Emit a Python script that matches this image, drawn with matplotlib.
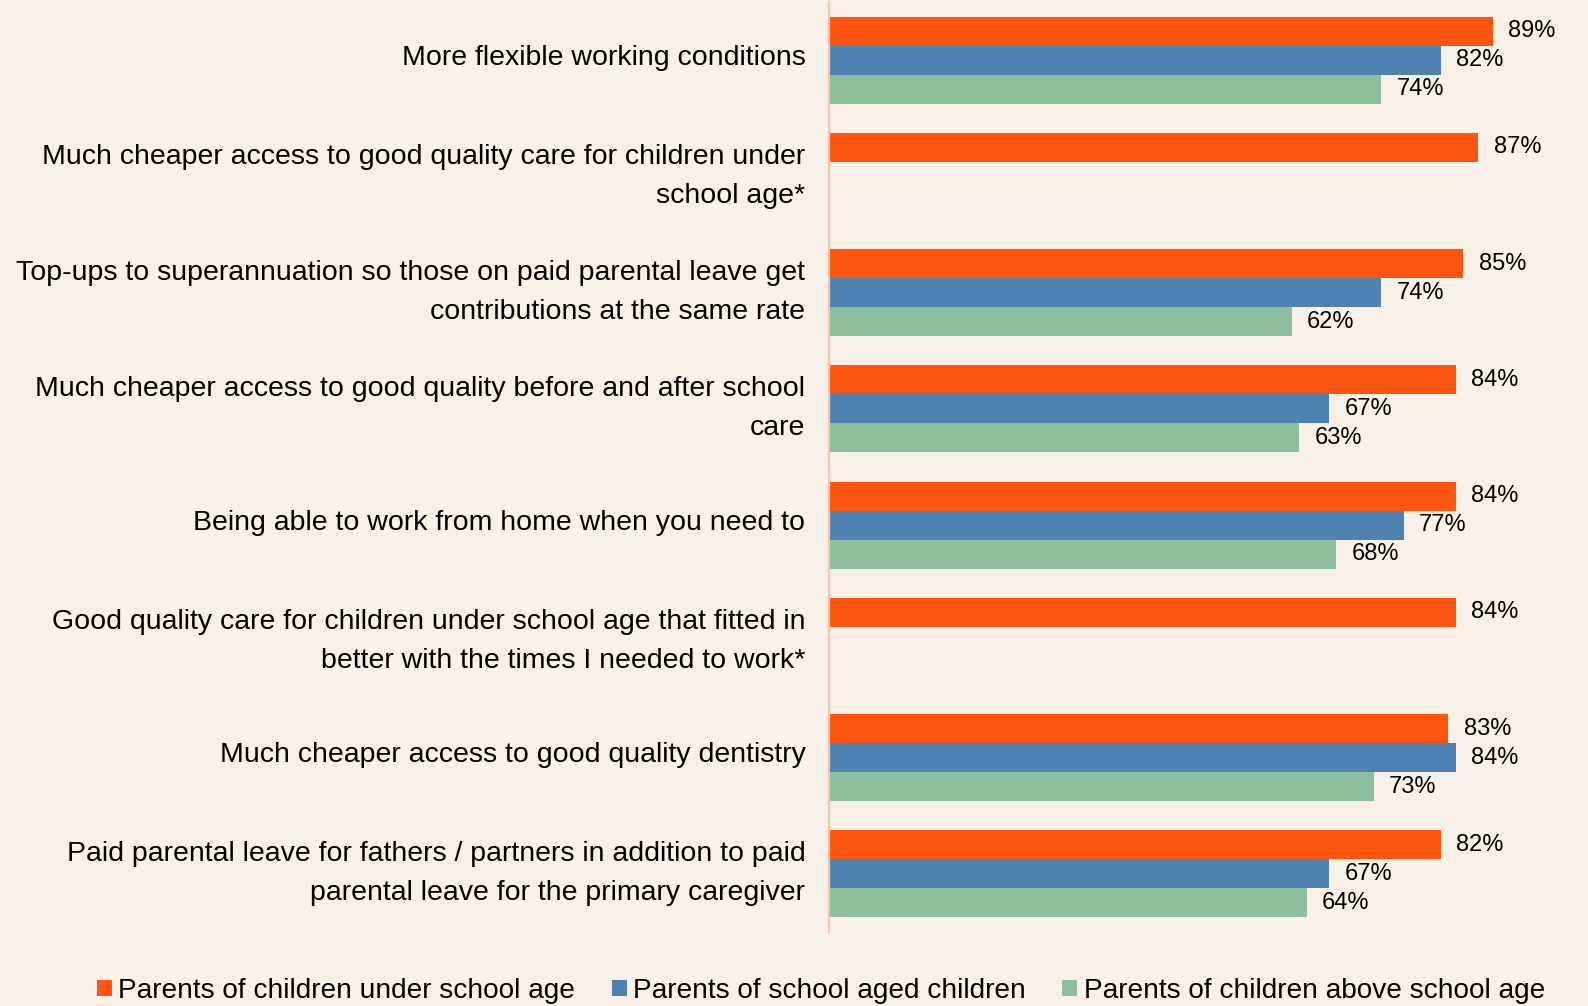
import matplotlib
matplotlib.use("Agg")
import matplotlib.pyplot as plt
from matplotlib import font_manager
from matplotlib.transforms import ScaledTranslation

# survey items, top to bottom
categories = [
    "More flexible working conditions",
    "Much cheaper access to good quality care for children under\nschool age*",
    "Top-ups to superannuation so those on paid parental leave get\ncontributions at the same rate",
    "Much cheaper access to good quality before and after school\ncare",
    "Being able to work from home when you need to",
    "Good quality care for children under school age that fitted in\nbetter with the times I needed to work*",
    "Much cheaper access to good quality dentistry",
    "Paid parental leave for fathers / partners in addition to paid\nparental leave for the primary caregiver",
]
under_school_age = [89, 87, 85, 84, 84, 84, 83, 82]
school_aged = [82, None, 74, 67, 77, None, 84, 67]
above_school_age = [74, None, 62, 63, 68, None, 73, 64]

series_names = [
    "Parents of children under school age",
    "Parents of school aged children",
    "Parents of children above school age",
]
colors = ["#FF5510", "#4F82B2", "#8EBF9D"]
bg = "#F9F1E7"

installed = {f.name for f in font_manager.fontManager.ttflist}
main_font = "Liberation Sans" if "Liberation Sans" in installed else "DejaVu Sans"
plt.rcParams["font.family"] = main_font

fig = plt.figure(figsize=(15.88, 10.06), dpi=100, facecolor=bg)
ax = fig.add_axes([829 / 1588, 74 / 1006, 759 / 1588, 930 / 1006])
ax.set_facecolor(bg)

h = 0.25
offsets = [-h, 0, h]
containers = []
for vals, name, col, off in zip([under_school_age, school_aged, above_school_age],
                                series_names, colors, offsets):
    ys = [i + off for i, v in enumerate(vals) if v is not None]
    ws = [v for v in vals if v is not None]
    bars = ax.barh(ys, ws, height=h, color=col, label=name)
    ax.bar_label(bars, labels=[f"{v}%" for v in ws], padding=11, fontsize=17)
    containers.append(bars)

ax.set_xlim(0, 101.7)
ax.set_ylim(7.5, -0.5)
ax.set_yticks(range(len(categories)))
ax.set_yticklabels(categories, fontsize=20.5, linespacing=1.65)
ax.tick_params(axis="y", length=0, pad=17)
# nudge category labels up a little (two-line ones a bit more)
for lbl in ax.get_yticklabels():
    up = 7 if "\n" in lbl.get_text() else 4
    lbl.set_transform(lbl.get_transform() + ScaledTranslation(0, up / 72, fig.dpi_scale_trans))
ax.set_xticks([])
for s in ["top", "right", "bottom"]:
    ax.spines[s].set_visible(False)
ax.spines["left"].set_color("#FFC2A6")
ax.spines["left"].set_linewidth(1.6)

fig.legend(handles=containers, labels=series_names, loc="center left",
           bbox_to_anchor=(97 / 1588, 15 / 1006), ncol=3, frameon=False,
           prop={"family": main_font, "size": 20.2},
           handlelength=0.53, handleheight=0.53, handletextpad=0.23,
           columnspacing=1.3, borderpad=0, borderaxespad=0)

fig.savefig("out.png", dpi=100, facecolor=bg)
